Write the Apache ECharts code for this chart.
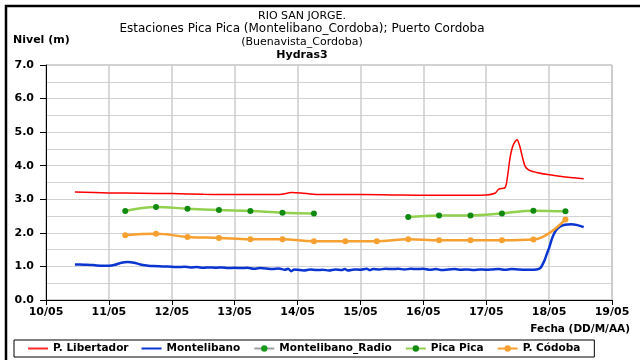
<!DOCTYPE html>
<html>
<head>
<meta charset="utf-8">
<script src="https://cdn.jsdelivr.net/npm/echarts@6/dist/echarts.min.js"></script>
<style>
  html, body { margin: 0; padding: 0; background: #fff; }
  #chart { width: 640px; height: 360px; }
</style>
</head>
<body>
<div id="chart"></div>
<script>
// Days of May (fractional) and river levels in metres
const dayTicks = [10, 11, 12, 13, 14, 15, 16, 17, 18, 19];
const levelTicks = [0, 1, 2, 3, 4, 5, 6, 7];

const libertadorDays = [10.46, 11.0, 11.5, 12.0, 12.5, 13.0, 13.5, 13.75, 13.9, 14.05, 14.25, 14.5, 15.0, 15.5, 16.0, 16.5, 17.0, 17.14, 17.2, 17.3, 17.34, 17.38, 17.43, 17.49, 17.53, 17.57, 17.62, 17.68, 17.8, 18.0, 18.2, 18.4, 18.55];
const libertadorLevels = [3.22, 3.19, 3.18, 3.17, 3.15, 3.14, 3.14, 3.15, 3.20, 3.19, 3.15, 3.14, 3.14, 3.13, 3.12, 3.12, 3.13, 3.18, 3.30, 3.35, 3.70, 4.25, 4.62, 4.77, 4.60, 4.30, 3.98, 3.87, 3.80, 3.73, 3.68, 3.64, 3.61];

const montelibanoDays = [10.46, 10.6, 10.75, 10.9, 11.0, 11.1, 11.2, 11.3, 11.4, 11.5, 11.6, 11.7, 11.85, 12.0, 12.1, 12.2, 12.3, 12.4, 12.5, 12.6, 12.7, 12.8, 12.9, 13.0, 13.1, 13.2, 13.3, 13.4, 13.5, 13.6, 13.7, 13.8, 13.85, 13.9, 13.95, 14.0, 14.1, 14.2, 14.3, 14.4, 14.5, 14.6, 14.7, 14.75, 14.8, 14.9, 15.0, 15.1, 15.15, 15.2, 15.3, 15.4, 15.5, 15.6, 15.7, 15.8, 15.9, 16.0, 16.1, 16.2, 16.3, 16.4, 16.5, 16.6, 16.7, 16.8, 16.9, 17.0, 17.1, 17.2, 17.3, 17.4, 17.5, 17.6, 17.7, 17.8, 17.86, 17.92, 17.96, 18.0, 18.05, 18.1, 18.17, 18.25, 18.35, 18.45, 18.55];
const montelibanoLevels = [1.06, 1.05, 1.04, 1.02, 1.02, 1.05, 1.11, 1.13, 1.11, 1.06, 1.03, 1.01, 1.00, 0.99, 0.98, 0.99, 0.97, 0.98, 0.96, 0.97, 0.96, 0.97, 0.95, 0.96, 0.95, 0.96, 0.93, 0.95, 0.94, 0.92, 0.94, 0.90, 0.93, 0.86, 0.91, 0.90, 0.88, 0.91, 0.89, 0.90, 0.88, 0.91, 0.89, 0.92, 0.88, 0.91, 0.90, 0.93, 0.89, 0.92, 0.91, 0.93, 0.92, 0.93, 0.91, 0.93, 0.92, 0.93, 0.90, 0.92, 0.89, 0.91, 0.92, 0.90, 0.91, 0.89, 0.91, 0.90, 0.91, 0.92, 0.90, 0.92, 0.91, 0.90, 0.90, 0.91, 0.95, 1.15, 1.35, 1.55, 1.85, 2.05, 2.18, 2.24, 2.26, 2.23, 2.17];

// Montelibano_Radio has no readings in this period
const radioDays = [];
const radioLevels = [];

const picaDays = [11.26, 11.75, 12.25, 12.75, 13.25, 13.76, 14.26, 14.76, 15.26, 15.76, 16.25, 16.75, 17.25, 17.75, 18.26];
const picaLevels = [2.65, 2.77, 2.72, 2.68, 2.65, 2.60, 2.58, null, null, 2.47, 2.52, 2.52, 2.58, 2.66, 2.64];

const cordobaDays = [11.26, 11.75, 12.25, 12.75, 13.25, 13.76, 14.26, 14.76, 15.26, 15.76, 16.25, 16.75, 17.25, 17.75, 18.26];
const cordobaLevels = [1.93, 1.97, 1.88, 1.85, 1.81, 1.81, 1.75, 1.75, 1.75, 1.81, 1.78, 1.78, 1.78, 1.80, 2.40];

const seriesNames = ['P. Libertador', 'Montelibano', 'Montelibano_Radio', 'Pica Pica', 'P. Códoba'];

const pairs = (xs, ys) => xs.map((x, i) => [x, ys[i] === null ? '-' : ys[i]]);

const FONT = '"DejaVu Sans", Arial, sans-serif';
// plain line icon for the series drawn without markers
const LINE_ICON = 'path://M0,0H20V2H0Z';

const chart = echarts.init(document.getElementById('chart'), null, { renderer: 'canvas' });

chart.setOption({
  backgroundColor: '#ffffff',
  animation: false,
  grid: {
    left: 46, top: 65, right: 28, bottom: 60,
    show: true, borderColor: '#a0a0a0', borderWidth: 1
  },
  xAxis: {
    type: 'value',
    min: dayTicks[0], max: dayTicks[dayTicks.length - 1], interval: 1,
    axisLine: { show: true, onZero: false, lineStyle: { color: '#000', width: 1 } },
    axisTick: { show: true, inside: false, length: 5, lineStyle: { color: '#000' } },
    axisLabel: {
      margin: 7, color: '#000', fontFamily: FONT, fontWeight: 'bold', fontSize: 11,
      formatter: v => String(v).padStart(2, '0') + '/05'
    },
    splitLine: { show: true, lineStyle: { color: '#cccccc', width: 1.5 } }
  },
  yAxis: {
    type: 'value',
    min: levelTicks[0], max: levelTicks[levelTicks.length - 1], interval: 1,
    axisLine: { show: true, lineStyle: { color: '#000', width: 1 } },
    axisTick: { show: true, inside: false, length: 6, lineStyle: { color: '#000' } },
    axisLabel: {
      margin: 12, color: '#000', fontFamily: FONT, fontWeight: 'bold', fontSize: 11,
      formatter: v => v.toFixed(1)
    },
    splitLine: { show: true, lineStyle: { color: '#d2d2d2', width: 1.2 } },
    minorTick: { show: false, splitNumber: 2 },
    minorSplitLine: { show: true, lineStyle: { color: '#d2d2d2', width: 1.2 } }
  },
  legend: {
    left: 14, top: 340,
    padding: [3, 14, 3, 14],
    itemGap: 13, itemWidth: 20, itemHeight: 8,
    borderColor: '#000', borderWidth: 1, borderRadius: 0,
    backgroundColor: '#fff',
    textStyle: { color: '#000', fontFamily: FONT, fontWeight: 'bold', fontSize: 10.5 },
    data: [
      { name: seriesNames[0], icon: LINE_ICON },
      { name: seriesNames[1], icon: LINE_ICON },
      seriesNames[2], seriesNames[3], seriesNames[4]
    ]
  },
  graphic: [
    { type: 'rect', silent: true, shape: { x: 6, y: 6, width: 700, height: 400 },
      style: { fill: 'none', stroke: '#000', lineWidth: 2.5 } },
    { type: 'text', x: 302, y: 16, style: { text: 'RIO SAN JORGE.', font: '11px ' + FONT, fill: '#000', textAlign: 'center', textVerticalAlign: 'middle' } },
    { type: 'text', x: 302, y: 29, style: { text: 'Estaciones Pica Pica (Montelibano_Cordoba); Puerto Cordoba', font: '12px ' + FONT, fill: '#000', textAlign: 'center', textVerticalAlign: 'middle' } },
    { type: 'text', x: 302, y: 42, style: { text: '(Buenavista_Cordoba)', font: '11px ' + FONT, fill: '#000', textAlign: 'center', textVerticalAlign: 'middle' } },
    { type: 'text', x: 302, y: 55, style: { text: 'Hydras3', font: 'bold 11px ' + FONT, fill: '#000', textAlign: 'center', textVerticalAlign: 'middle' } },
    { type: 'text', x: 13, y: 40, style: { text: 'Nivel (m)', font: 'bold 11px ' + FONT, fill: '#000', textAlign: 'left', textVerticalAlign: 'middle' } },
    { type: 'text', x: 630, y: 329, style: { text: 'Fecha (DD/M/AA)', font: 'bold 10.5px ' + FONT, fill: '#000', textAlign: 'right', textVerticalAlign: 'middle' } }
  ],
  series: [
    {
      name: seriesNames[0], type: 'line', symbol: 'none', smooth: 0.3,
      lineStyle: { color: '#ff0000', width: 1.5 }, itemStyle: { color: '#ff2a2a' },
      data: pairs(libertadorDays, libertadorLevels), z: 3
    },
    {
      name: seriesNames[1], type: 'line', symbol: 'none', smooth: 0.3,
      lineStyle: { color: '#0a35d0', width: 2.5 }, itemStyle: { color: '#0a35d0' },
      data: pairs(montelibanoDays, montelibanoLevels), z: 3
    },
    {
      name: seriesNames[2], type: 'line', symbol: 'circle', symbolSize: 5,
      lineStyle: { color: '#a0a0a0', width: 2.5 }, itemStyle: { color: '#1a9a1a' },
      data: pairs(radioDays, radioLevels)
    },
    {
      name: seriesNames[3], type: 'line', symbol: 'circle', symbolSize: 6, smooth: 0.4,
      connectNulls: false,
      lineStyle: { color: '#92d050', width: 2.5 }, itemStyle: { color: '#118a11' },
      data: pairs(picaDays, picaLevels), z: 4
    },
    {
      name: seriesNames[4], type: 'line', symbol: 'circle', symbolSize: 6, smooth: 0.4,
      lineStyle: { color: '#f5a031', width: 2.5 }, itemStyle: { color: '#f5a031' },
      data: pairs(cordobaDays, cordobaLevels), z: 4
    }
  ]
});
</script>
</body>
</html>
